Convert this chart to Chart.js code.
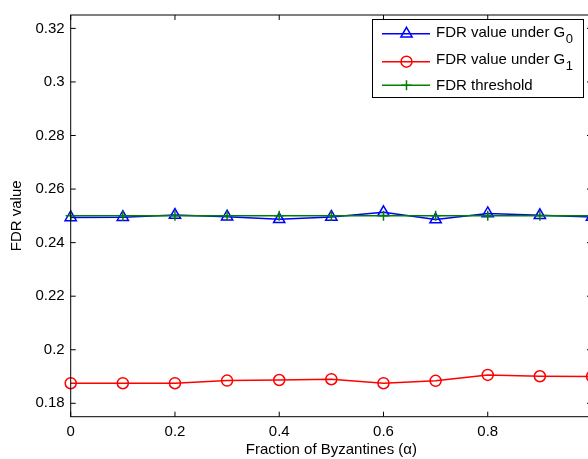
<!DOCTYPE html>
<html lang="en">
<head>
  <meta charset="UTF-8">
  <title>FDR value vs Fraction of Byzantines</title>
  <style>
    body {
      margin: 0;
      padding: 0;
      background: #fff;
      overflow: hidden;
    }
    #wrap {
      width: 600px;
      height: 459px;
    }
  </style>
</head>
<body>
  <div id="wrap"><canvas id="fdrChart" width="600" height="459"></canvas></div>

  <script src="https://cdn.jsdelivr.net/npm/chart.js@4"></script>
  <script>
    // Data
    const alphas = [0, 0.1, 0.2, 0.3, 0.4, 0.5, 0.6, 0.7, 0.8, 0.9, 1];
    const fdrG0 = [0.2494, 0.2495, 0.2503, 0.2497, 0.2487, 0.2496, 0.2513, 0.2486, 0.2509, 0.2502, 0.2496];
    const fdrG1 = [0.1875, 0.1875, 0.1875, 0.1885, 0.1887, 0.1890, 0.1875, 0.1884, 0.1906, 0.1901, 0.1900];
    const fdrThreshold = [0.25, 0.25, 0.25, 0.25, 0.25, 0.25, 0.25, 0.25, 0.25, 0.25, 0.25];
    const xTicks = [0, 0.2, 0.4, 0.6, 0.8, 1];
    const yTicks = [0.18, 0.2, 0.22, 0.24, 0.26, 0.28, 0.3, 0.32];

    const FONT = 'Arial, "Liberation Sans", Helvetica, sans-serif';

    function toPoints(ys) {
      return alphas.map((a, i) => ({ x: a, y: ys[i] }));
    }

    // Legend entries (subscript drawn separately)
    const legendItems = [
      { text: 'FDR value under G', sub: '0', color: '#0000ff', style: 'triangle', radius: 6.5, lineY: 33.8, textY: 37 },
      { text: 'FDR value under G', sub: '1', color: '#ff0000', style: 'circle', radius: 5.5, lineY: 61.7, textY: 63.5 },
      { text: 'FDR threshold', sub: '', color: '#008000', style: 'cross', radius: 5, lineY: 85.3, textY: 90 }
    ];

    // Matlab-like box, inward ticks and legend
    const matlabFrame = {
      id: 'matlabFrame',
      afterDraw(chart) {
        const ctx = chart.ctx;
        const area = chart.chartArea;
        const xs = chart.scales.x;
        const ys = chart.scales.y;
        const tickLen = 5;

        ctx.save();
        ctx.strokeStyle = '#000';
        ctx.lineWidth = 1;
        ctx.strokeRect(area.left, area.top, area.right - area.left, area.bottom - area.top);

        ctx.beginPath();
        xTicks.forEach(v => {
          const px = xs.getPixelForValue(v);
          ctx.moveTo(px, area.bottom);
          ctx.lineTo(px, area.bottom - tickLen);
          ctx.moveTo(px, area.top);
          ctx.lineTo(px, area.top + tickLen);
        });
        yTicks.forEach(v => {
          const py = ys.getPixelForValue(v);
          ctx.moveTo(area.left, py);
          ctx.lineTo(area.left + tickLen, py);
          ctx.moveTo(area.right, py);
          ctx.lineTo(area.right - tickLen, py);
        });
        ctx.stroke();

        // legend box
        const bx = 372.5, by = 19.5, bw = 211, bh = 78;
        ctx.fillStyle = '#fff';
        ctx.fillRect(bx, by, bw, bh);
        ctx.strokeRect(bx, by, bw, bh);

        legendItems.forEach(item => {
          ctx.strokeStyle = item.color;
          ctx.fillStyle = 'rgba(0,0,0,0)';
          ctx.lineWidth = 1.5;
          ctx.beginPath();
          ctx.moveTo(382, item.lineY);
          ctx.lineTo(430, item.lineY);
          ctx.stroke();
          Chart.helpers.drawPoint(ctx, {
            pointStyle: item.style,
            radius: item.radius,
            borderWidth: 1.5,
            rotation: 0
          }, 406.5, item.lineY);

          ctx.fillStyle = '#000';
          ctx.textAlign = 'left';
          ctx.textBaseline = 'alphabetic';
          ctx.font = '15px ' + FONT;
          ctx.fillText(item.text, 436, item.textY);
          if (item.sub) {
            const w = ctx.measureText(item.text).width;
            ctx.font = '13px ' + FONT;
            ctx.fillText(item.sub, 436 + w + 0.5, item.textY + 6);
          }
        });
        ctx.restore();
      }
    };

    const ctx = document.getElementById('fdrChart').getContext('2d');
    const fdrChart = new Chart(ctx, {
      type: 'line',
      data: {
        datasets: [
          {
            label: 'FDR value under G0',
            data: toPoints(fdrG0),
            borderColor: '#0000ff',
            backgroundColor: 'rgba(0,0,0,0)',
            borderWidth: 1.5,
            pointStyle: 'triangle',
            pointRadius: 6.5,
            pointBorderWidth: 1.5,
            pointBorderColor: '#0000ff',
            pointBackgroundColor: 'rgba(0,0,0,0)',
            tension: 0,
            clip: false,
            order: 2
          },
          {
            label: 'FDR value under G1',
            data: toPoints(fdrG1),
            borderColor: '#ff0000',
            backgroundColor: 'rgba(0,0,0,0)',
            borderWidth: 1.5,
            pointStyle: 'circle',
            pointRadius: 5.5,
            pointBorderWidth: 1.5,
            pointBorderColor: '#ff0000',
            pointBackgroundColor: 'rgba(0,0,0,0)',
            tension: 0,
            clip: false,
            order: 1
          },
          {
            label: 'FDR threshold',
            data: toPoints(fdrThreshold),
            borderColor: '#008000',
            backgroundColor: 'rgba(0,0,0,0)',
            borderWidth: 1.5,
            pointStyle: 'cross',
            pointRadius: 5,
            pointBorderWidth: 1.5,
            pointBorderColor: '#008000',
            tension: 0,
            clip: false,
            order: 0
          }
        ]
      },
      options: {
        responsive: false,
        animation: false,
        events: [],
        layout: { padding: { left: 0, right: 7.8, top: 11.3, bottom: 0 } },
        plugins: {
          legend: { display: false },
          tooltip: { enabled: false }
        },
        scales: {
          x: {
            type: 'linear',
            min: 0,
            max: 1,
            grid: { display: false, drawTicks: false },
            border: { display: false },
            afterBuildTicks: s => { s.ticks = xTicks.map(v => ({ value: v })); },
            afterFit: s => { s.height = 42.3; },
            ticks: {
              autoSkip: false,
              maxRotation: 0,
              padding: 6,
              color: '#000',
              font: { family: FONT, size: 15 },
              // the label at 1 falls outside the cropped figure
              callback: v => (v === 1 ? '' : String(v))
            },
            title: {
              display: true,
              text: 'Fraction of Byzantines (α)',
              color: '#000',
              font: { family: FONT, size: 15 },
              padding: { top: 0, bottom: 0 }
            }
          },
          y: {
            type: 'linear',
            min: 0.175,
            max: 0.325,
            grid: { display: false, drawTicks: false },
            border: { display: false },
            afterBuildTicks: s => { s.ticks = yTicks.map(v => ({ value: v })); },
            afterFit: s => { s.width = 70.7; },
            ticks: {
              padding: 6,
              color: '#000',
              font: { family: FONT, size: 15 },
              callback: v => String(v)
            },
            title: {
              display: true,
              text: 'FDR value',
              color: '#000',
              font: { family: FONT, size: 15 },
              padding: { top: 8.3, bottom: 0 }
            }
          }
        }
      },
      plugins: [matlabFrame]
    });
  </script>
</body>
</html>
